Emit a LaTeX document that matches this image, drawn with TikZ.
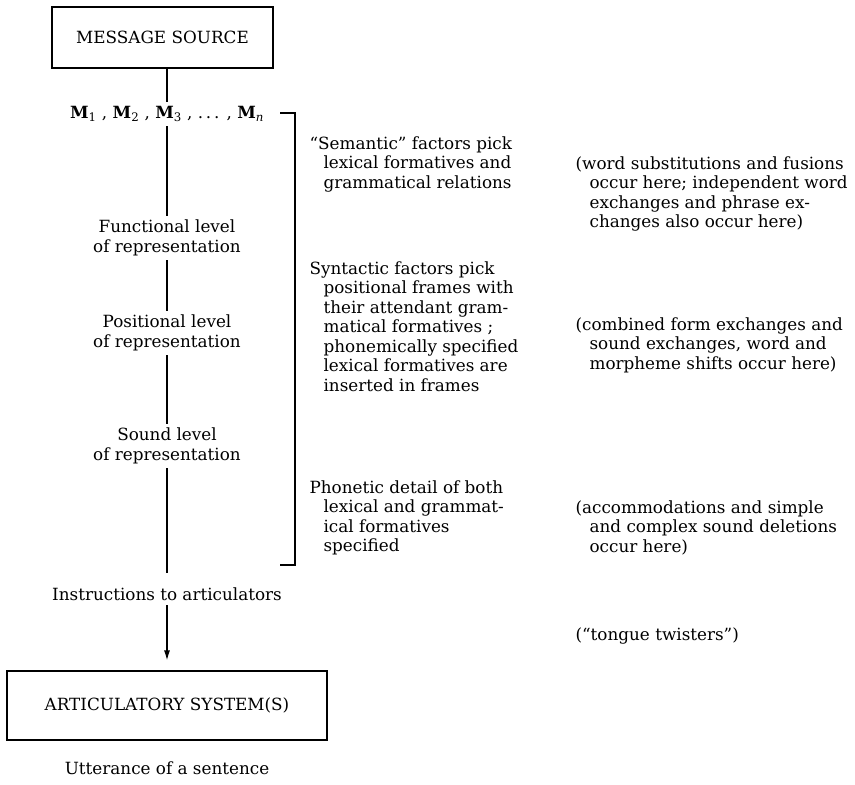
\documentclass[tikz,border=0pt]{standalone}
\usepackage{fontspec}
\setmainfont{DejaVu Serif}
\usetikzlibrary{positioning,arrows.meta}

\tikzset{
	box/.style={draw, line width=1.2pt, inner sep=0},
	level/.style={align=center, inner sep=4pt},
	note/.style={anchor=north west, align=left, inner sep=0},
}
\newcommand{\ind}{\hspace*{14pt}}

\begin{document}
\begin{tikzpicture}[>={Latex[length=10pt,width=6pt]}, x=1pt, y=-1pt, line width=1.2pt,
		font=\fontsize{16.8}{19.5}\selectfont]
	\useasboundingbox (0,0) rectangle (855,785);
	% left column
	\node[box, minimum width=221pt, minimum height=61pt] (src) at (162.5,37.5) {MESSAGE SOURCE};
	\node[level] (msg) at (167,114) {{\bfseries M}\textsubscript{1} , {\bfseries M}\textsubscript{2} , {\bfseries M}\textsubscript{3} , .\,.\,. , {\bfseries M}\textsubscript{\itshape n}};
	\node[level] (func) at (167,238) {Functional level\\of representation};
	\node[level] (pos) at (167,333) {Positional level\\of representation};
	\node[level] (snd) at (167,446) {Sound level\\of representation};
	\node[level] (instr) at (167,594) {Instructions to articulators};
	\node[box, minimum width=320pt, minimum height=69pt] (art) at (167,705.5) {ARTICULATORY SYSTEM(S)};
	\node[level] (utt) at (167,768) {Utterance of a sentence};
	\draw (src.south -| msg) -- (msg);
	\draw (msg) -- (func);
	\draw (func) -- (pos);
	\draw (pos) -- (snd);
	\draw[shorten >=10pt] (snd) -- (instr);
	\draw[->, shorten >=10pt] (instr) -- (art);
	% bracket
	\coordinate (brtop) at (280,113);
	\coordinate (brbot) at (280,565);
	\draw[line width=1.5pt] (brtop) -- ++(15,0) |- (brbot);
	% middle column
	\node[note] (sem) at (309,136) {``Semantic'' factors pick\\\ind lexical formatives and\\\ind grammatical relations};
	\node[note] (syn) at (309,261) {Syntactic factors pick\\\ind positional frames with\\\ind their attendant gram-\\\ind matical formatives ;\\\ind phonemically specified\\\ind lexical formatives are\\\ind inserted in frames};
	\node[note] (phon) at (309,480) {Phonetic detail of both\\\ind lexical and grammat-\\\ind ical formatives\\\ind specified};
	% right column
	\node[note] (word) at (575,156) {(word substitutions and fusions\\\ind occur here; independent word\\\ind exchanges and phrase ex-\\\ind changes also occur here)};
	\node[note] (comb) at (575,317) {(combined form exchanges and\\\ind sound exchanges, word and\\\ind morpheme shifts occur here)};
	\node[note] (acc) at (575,500) {(accommodations and simple\\\ind and complex sound deletions\\\ind occur here)};
	\node[note] (twist) at (575,627) {(``tongue twisters'')};
\end{tikzpicture}
\end{document}
